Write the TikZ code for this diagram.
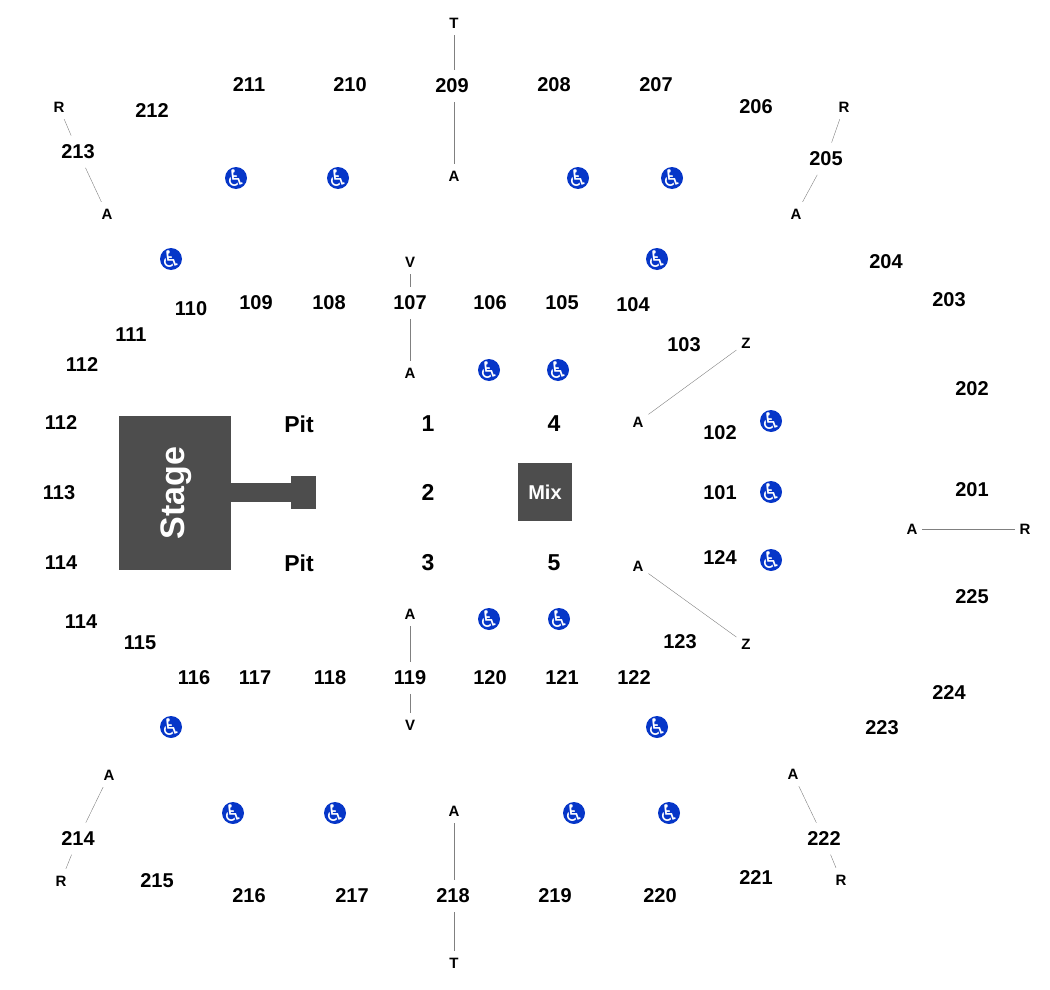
\documentclass[tikz,border=0pt]{standalone}
\usepackage{fontspec}
\setmainfont{Liberation Sans}
\newfontfamily\iconfont{DejaVu Sans}
\definecolor{stagegray}{HTML}{4D4D4D}
\definecolor{accessblue}{HTML}{0636C8}
\newcommand{\wheelchair}{\raisebox{-0.36em}[0pt][0pt]{\makebox[0pt]{\char"267F}}}
\tikzset{
    seat/.style={font=\fontsize{20}{20}\selectfont\bfseries,inner sep=0pt,outer xsep=4pt,outer ysep=9pt,yshift=-0.7pt},
    floorlabel/.style={font=\fontsize{23}{23}\selectfont\bfseries,inner sep=0pt},
    tag/.style={font=\fontsize{15}{15}\selectfont\bfseries,inner xsep=0pt,inner ysep=0pt,outer xsep=5pt,outer ysep=7pt},
    access/.style={circle,fill=accessblue,text=white,inner sep=0pt,minimum size=22pt,font=\iconfont\fontsize{23}{23}\selectfont},
    block/.style={fill=stagegray,text=white,inner sep=0pt,font=\bfseries}
}

\begin{document}
\begin{tikzpicture}[x=1pt,y=-1pt]
\useasboundingbox (0,0) rectangle (1050,990);

\begin{scope}[every node/.style={block}]
    \node [minimum width=60pt,minimum height=19pt] (walk) at (261,492.5) {};
    \node [minimum width=25pt,minimum height=33pt] (thrust) at (303.5,492.5) {};
    \node [minimum width=112pt,minimum height=154pt] (stage) at (175,493) {};
    \node [font=\fontsize{34}{34}\selectfont\bfseries] (stagetext) at (176,493) {\rotatebox{90}{Stage}};
    \node [minimum width=54pt,minimum height=58pt,font=\fontsize{20}{20}\selectfont\bfseries] (mix) at (545,492) {Mix};
\end{scope}

\begin{scope}[every node/.style={floorlabel}]
    \node (pit1) at (299,424) {Pit};
    \node (pit2) at (299,563) {Pit};
    \node (f1) at (428,424) {1};
    \node (f2) at (428,492) {2};
    \node (f3) at (428,563) {3};
    \node (f4) at (554,424) {4};
    \node (f5) at (554,563) {5};
\end{scope}

\begin{scope}[every node/.style={seat}]
    \node (s101) at (720,492) {101};
    \node (s102) at (720,432) {102};
    \node (s103) at (684,344) {103};
    \node (s104) at (633,304) {104};
    \node (s105) at (562,302) {105};
    \node (s106) at (490,302) {106};
    \node (s107) at (410,302) {107};
    \node (s108) at (329,302) {108};
    \node (s109) at (256,302) {109};
    \node (s110) at (191,308) {110};
    \node (s111) at (131,334) {111};
    \node (s112a) at (82,364) {112};
    \node (s112b) at (61,422) {112};
    \node (s113) at (59,492) {113};
    \node (s114a) at (61,562) {114};
    \node (s114b) at (81,621) {114};
    \node (s115) at (140,642) {115};
    \node (s116) at (194,677) {116};
    \node (s117) at (255,677) {117};
    \node (s118) at (330,677) {118};
    \node (s119) at (410,677) {119};
    \node (s120) at (490,677) {120};
    \node (s121) at (562,677) {121};
    \node (s122) at (634,677) {122};
    \node (s123) at (680,641) {123};
    \node (s124) at (720,557) {124};
    \node (s201) at (972,489) {201};
    \node (s202) at (972,388) {202};
    \node (s203) at (949,299) {203};
    \node (s204) at (886,261) {204};
    \node (s205) at (826,158) {205};
    \node (s206) at (756,106) {206};
    \node (s207) at (656,84) {207};
    \node (s208) at (554,84) {208};
    \node (s209) at (452,85) {209};
    \node (s210) at (350,84) {210};
    \node (s211) at (249,84) {211};
    \node (s212) at (152,110) {212};
    \node (s213) at (78,151) {213};
    \node (s214) at (78,838) {214};
    \node (s215) at (157,880) {215};
    \node (s216) at (249,895) {216};
    \node (s217) at (352,895) {217};
    \node (s218) at (453,895) {218};
    \node (s219) at (555,895) {219};
    \node (s220) at (660,895) {220};
    \node (s221) at (756,877) {221};
    \node (s222) at (824,838) {222};
    \node (s223) at (882,727) {223};
    \node (s224) at (949,692) {224};
    \node (s225) at (972,596) {225};
\end{scope}

\begin{scope}[every node/.style={tag}]
    \node (T1) at (454,23) {T};
    \node (A1) at (454,176) {A};
    \node (R1) at (59,107) {R};
    \node (A2) at (107,214) {A};
    \node (R2) at (844,107) {R};
    \node (A3) at (796,214) {A};
    \node (V1) at (410,262) {V};
    \node (A4) at (410,373) {A};
    \node (Z1) at (746,343) {Z};
    \node (A5) at (638,422) {A};
    \node (A6) at (638,566) {A};
    \node (Z2) at (746,644) {Z};
    \node (A7) at (912,529) {A};
    \node (R3) at (1025,529) {R};
    \node (A8) at (410,614) {A};
    \node (V2) at (410,725) {V};
    \node (A9) at (109,775) {A};
    \node (R4) at (61,881) {R};
    \node (A10) at (793,774) {A};
    \node (R5) at (841,880) {R};
    \node (A11) at (454,811) {A};
    \node (T2) at (454,963) {T};
\end{scope}

\begin{scope}[every node/.style={access}]
    \node (w1) at (236,178) {\wheelchair};
    \node (w2) at (338,178) {\wheelchair};
    \node (w3) at (578,178) {\wheelchair};
    \node (w4) at (672,178) {\wheelchair};
    \node (w5) at (171,259) {\wheelchair};
    \node (w6) at (657,259) {\wheelchair};
    \node (w7) at (489,370) {\wheelchair};
    \node (w8) at (558,370) {\wheelchair};
    \node (w9) at (771,421) {\wheelchair};
    \node (w10) at (771,492) {\wheelchair};
    \node (w11) at (771,560) {\wheelchair};
    \node (w12) at (489,619) {\wheelchair};
    \node (w13) at (559,619) {\wheelchair};
    \node (w14) at (171,727) {\wheelchair};
    \node (w15) at (657,727) {\wheelchair};
    \node (w16) at (233,813) {\wheelchair};
    \node (w17) at (335,813) {\wheelchair};
    \node (w18) at (574,813) {\wheelchair};
    \node (w19) at (669,813) {\wheelchair};
\end{scope}

\begin{scope}[every edge/.style={draw=gray,thin}]
    \path (T1) edge (T1 |- s209.north);
    \path (A1) edge (A1 |- s209.south);
    \path (R1) edge (s213);
    \path (s213) edge (A2);
    \path (R2) edge (s205);
    \path (s205) edge (A3);
    \path (V1) edge (s107);
    \path (s107) edge (A4);
    \path (Z1) edge (A5);
    \path (A6) edge (Z2);
    \path (A7) edge (R3);
    \path (A8) edge (s119);
    \path (s119) edge (V2);
    \path (A9) edge (s214);
    \path (s214) edge (R4);
    \path (A10) edge (s222);
    \path (s222) edge (R5);
    \path (A11) edge (A11 |- s218.north);
    \path (T2) edge (T2 |- s218.south);
\end{scope}
\end{tikzpicture}
\end{document}
